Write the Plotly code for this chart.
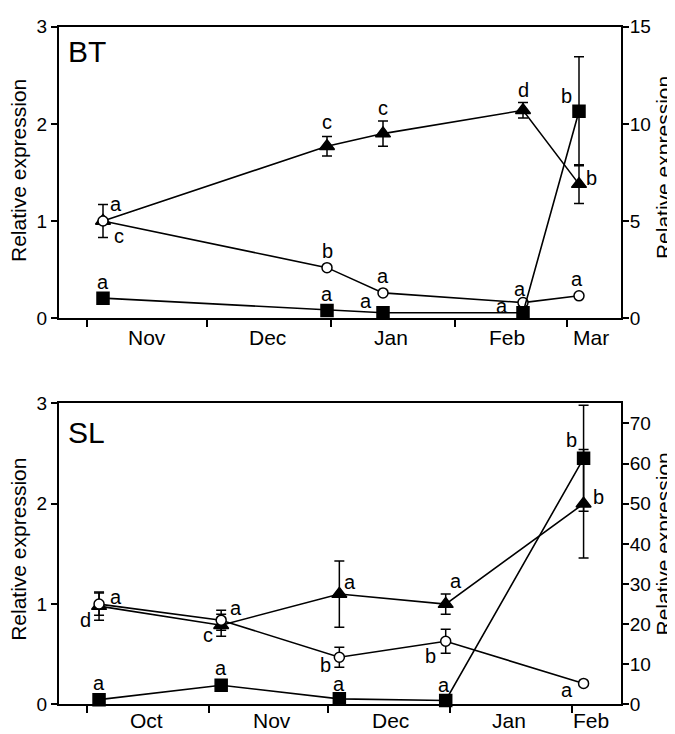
import plotly.graph_objects as go

W, H = 675, 734

# ---------------- data: BT ----------------
bt_dates = ["2000-11-05", "2000-12-31", "2001-01-14", "2001-02-18", "2001-03-04"]
bt_tri = [1.0, 1.77, 1.90, 2.14, 1.38]
bt_tri_err = [0.17, 0.10, 0.13, 0.08, 0.20]
bt_circ = [1.0, 0.52, 0.26, 0.16, 0.23]
bt_circ_err = [0.0, 0.0, 0.0, 0.0, 0.0]
bt_sq = [1.03, 0.40, 0.28, 0.28, 10.65]      # right axis
bt_sq_err = [0.15, 0.0, 0.0, 0.0, 2.8]
bt_tri_letters = ["c", "c", "c", "d", "b"]
bt_circ_letters = ["a", "b", "a", "a", "a"]
bt_sq_letters = ["a", "a", "a", "a", "b"]
bt_month_ticks = ["2000-11-01", "2000-12-01", "2001-01-01", "2001-02-01", "2001-03-01"]
bt_label_pos = ["2000-11-16", "2000-12-16", "2001-01-16", "2001-02-14", "2001-03-07"]
bt_label_txt = ["Nov", "Dec", "Jan", "Feb", "Mar"]
bt_xrange = ["2000-10-25", "2001-03-14 12:00"]

# ---------------- data: SL ----------------
sl_dates = ["2000-10-04", "2000-11-04", "2000-12-04", "2000-12-31", "2001-02-04"]
sl_tri = [0.98, 0.79, 1.10, 1.00, 2.00]
sl_tri_err = [0.14, 0.11, 0.33, 0.10, 0.54]
sl_circ = [1.0, 0.84, 0.47, 0.63, 0.21]
sl_circ_err = [0.11, 0.10, 0.10, 0.12, 0.0]
sl_sq = [1.2, 4.8, 1.4, 1.0, 61.3]          # right axis
sl_sq_err = [0.0, 0.0, 0.0, 0.0, 13.2]
sl_tri_letters = ["d", "c", "a", "a", "b"]
sl_circ_letters = ["a", "a", "b", "b", "a"]
sl_sq_letters = ["a", "a", "a", "a", "b"]
sl_month_ticks = ["2000-10-01", "2000-11-01", "2000-12-01", "2001-01-01", "2001-02-01"]
sl_label_pos = ["2000-10-16", "2000-11-17", "2000-12-17", "2001-01-16", "2001-02-06"]
sl_label_txt = ["Oct", "Nov", "Dec", "Jan", "Feb"]
sl_xrange = ["2000-09-23 20:00", "2001-02-13 12:00"]

Y_TITLE = "Relative expression"

# letter offsets (px) : (dx, dy)
bt_tri_off = [(16, -15), (0, 24), (0, 26), (0, 20), (12, 6)]
bt_circ_off = [(13, 17), (0, 17), (0, 17), (-3, 14), (-2, 17)]
bt_sq_off = [(0, 16), (0, 16), (-17, 12), (-21, 7), (-13, 15)]
sl_tri_off = [(-14, -14), (-13, -10), (11, 12), (10, 23), (15, 7)]
sl_circ_off = [(17, 7), (15, 12), (-14, -8), (-15, -15), (-17, -7)]
sl_sq_off = [(0, 17), (0, 17), (0, 15), (-2, 15), (-12, 18)]

FONT = "Liberation Sans, Arial, sans-serif"
LW = 1.6

fig = go.Figure()


def add_series(x, y, err, sym, fill, xa, ya):
    fig.add_trace(go.Scatter(
        x=x, y=y, xaxis=xa, yaxis=ya, mode="lines+markers",
        line=dict(color="black", width=LW),
        marker=dict(symbol=sym, size=(13 if sym == "triangle-up" else 12 if sym == "square" else 10),
                    color=fill, line=dict(color="black", width=1.5)),
        error_y=dict(type="data", array=err, visible=True, color="black", thickness=1.5, width=5),
        showlegend=False, cliponaxis=False,
    ))


add_series(bt_dates, bt_tri, bt_tri_err, "triangle-up", "black", "x", "y")
add_series(bt_dates, bt_circ, bt_circ_err, "circle", "white", "x", "y")
add_series(bt_dates, bt_sq, bt_sq_err, "square", "black", "x", "y2")
add_series(sl_dates, sl_tri, sl_tri_err, "triangle-up", "black", "x2", "y3")
add_series(sl_dates, sl_circ, sl_circ_err, "circle", "white", "x2", "y3")
add_series(sl_dates, sl_sq, sl_sq_err, "square", "black", "x2", "y4")

ann = []


def add_letters(x, y, letters, offs, xref, yref):
    for xi, yi, t, (dx, dy) in zip(x, y, letters, offs):
        ann.append(dict(x=xi, y=yi, xref=xref, yref=yref, text=t, showarrow=False,
                        xshift=dx, yshift=dy, font=dict(family=FONT, size=20, color="black")))


add_letters(bt_dates, bt_tri, bt_tri_letters, bt_tri_off, "x", "y")
add_letters(bt_dates, bt_circ, bt_circ_letters, bt_circ_off, "x", "y")
add_letters(bt_dates, bt_sq, bt_sq_letters, bt_sq_off, "x", "y2")
add_letters(sl_dates, sl_tri, sl_tri_letters, sl_tri_off, "x2", "y3")
add_letters(sl_dates, sl_circ, sl_circ_letters, sl_circ_off, "x2", "y3")
add_letters(sl_dates, sl_sq, sl_sq_letters, sl_sq_off, "x2", "y4")


# month labels (centred between month-boundary ticks)
def add_month_labels(pos, txt, xref, yref, shift):
    for p, t in zip(pos, txt):
        ann.append(dict(x=p, y=0, xref=xref, yref=yref, text=t, showarrow=False,
                        yanchor="middle", yshift=shift,
                        font=dict(family=FONT, size=21, color="black")))


add_month_labels(bt_label_pos, bt_label_txt, "x", "y domain", -19)
add_month_labels(sl_label_pos, sl_label_txt, "x2", "y3 domain", -16)

# panel labels
ann.append(dict(x=0.0507, y=0.915, xref="x domain", yref="y domain", text="BT", showarrow=False,
                xanchor="center", yanchor="middle", font=dict(family=FONT, size=30, color="black")))
ann.append(dict(x=0.049, y=0.902, xref="x2 domain", yref="y3 domain", text="SL", showarrow=False,
                xanchor="center", yanchor="middle", font=dict(family=FONT, size=30, color="black")))

# axis titles (rotated text renders a few px right of its anchor, compensated)
for xc, yc in [(11, 157.5), (655.5, 154), (11, 547.5), (655.5, 541.5)]:
    ann.append(dict(x=xc / W, y=1 - yc / H, xref="paper", yref="paper",
                    text=Y_TITLE, showarrow=False, textangle=-90,
                    xanchor="center", yanchor="middle",
                    font=dict(family=FONT, size=21, color="black")))

xdom = [51 / W, 613 / W]
top_dom = [(H - 309) / H, (H - 9) / H]
bot_dom = [(H - 706.7) / H, (H - 396.7) / H]

ytickfont = dict(family=FONT, size=19, color="black")


def xaxis(rng, ticks_at, anchor):
    return dict(domain=xdom, range=rng, type="date", anchor=anchor,
                showline=True, linecolor="black", linewidth=2, mirror=True,
                showgrid=False, zeroline=False, showticklabels=False,
                tickmode="array", tickvals=ticks_at, ticks="outside",
                ticklen=7, tickwidth=2, tickcolor="black")


def yleft(dom, anchor):
    return dict(domain=dom, range=[0, 3], anchor=anchor, tickvals=[0, 1, 2, 3],
                showline=True, linecolor="black", linewidth=2, showgrid=False, zeroline=False,
                ticks="outside", ticklen=6, tickwidth=2, tickcolor="black", tickfont=ytickfont)


def yright(over, anchor, rmax, tv):
    return dict(overlaying=over, side="right", anchor=anchor, range=[0, rmax], tickvals=tv,
                showline=True, linecolor="black", linewidth=2, showgrid=False, zeroline=False,
                ticks="outside", ticklen=6, tickwidth=2, tickcolor="black", tickfont=ytickfont,
                ticklabelstandoff=-3)


fig.update_layout(
    width=W, height=H, margin=dict(l=0, r=0, t=0, b=0),
    paper_bgcolor="white", plot_bgcolor="white",
    xaxis=xaxis(bt_xrange, bt_month_ticks, "y"),
    yaxis=yleft(top_dom, "x"),
    yaxis2=yright("y", "x", 15, [0, 5, 10, 15]),
    xaxis2=xaxis(sl_xrange, sl_month_ticks, "y3"),
    yaxis3=yleft(bot_dom, "x2"),
    yaxis4=yright("y3", "x2", 75, [0, 10, 20, 30, 40, 50, 60, 70]),
    annotations=ann,
    font=dict(family=FONT, color="black"),
)

fig.write_html("out.html")
